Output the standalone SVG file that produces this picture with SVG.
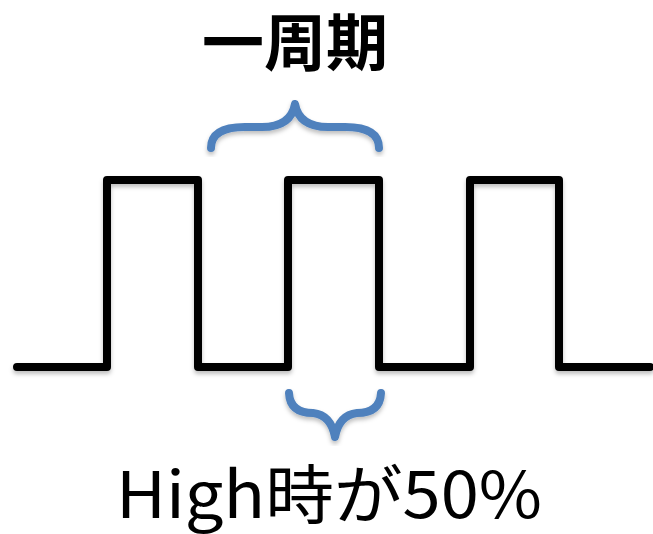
<svg xmlns="http://www.w3.org/2000/svg" width="653" height="534" viewBox="0 0 653 534">
<defs>
<filter id="sh" x="-10%" y="-10%" width="120%" height="130%">
<feDropShadow dx="0" dy="3" stdDeviation="2" flood-color="#000" flood-opacity="0.25"/>
</filter>
<style>
.wave{fill:none;stroke:#000;stroke-width:8;stroke-linecap:round;stroke-linejoin:round;filter:url(#sh)}
.brace{fill:none;stroke:#4F81BD;stroke-width:8;stroke-linecap:round;stroke-linejoin:round;filter:url(#sh)}
.t{font-family:"Noto Sans CJK JP","Noto Sans",sans-serif;fill:#000;text-anchor:middle}
</style>
</defs>
<rect width="653" height="534" fill="#fff"/>
<g id="connectors">
<path id="wave" class="wave" d="M17,367 L107,367 L107,180 L198,180 L198,367 L288,367 L288,180 L379,180 L379,367 L470,367 L470,180 L559,180 L559,367 L650,367"/>
</g>
<g id="brace-top">
<path class="brace" d="M211,148 Q211,127 245,127 L262,127 Q291,127 295,104 Q299,127 328,127 L345,127 Q379,127 379,148"/>
</g>
<g id="brace-bottom">
<path class="brace" d="M289,393 Q290,413 313,413 Q331,415 335,437 Q339,415 357,413 Q380,413 381,393"/>
</g>
<g id="label-period">
<text class="t" x="295" y="66" font-size="62" font-weight="bold">一周期</text>
</g>
<g id="label-duty">
<text class="t" x="329" y="518" font-size="64" textLength="426" lengthAdjust="spacingAndGlyphs">High時が50%</text>
</g>
</svg>
